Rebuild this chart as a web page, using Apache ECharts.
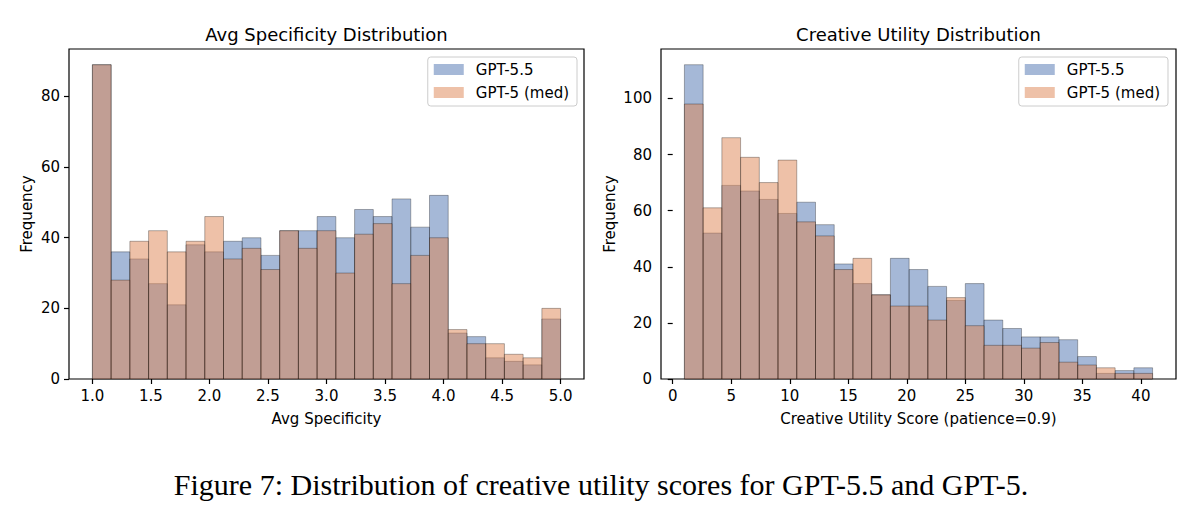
<!DOCTYPE html>
<html>
<head>
<meta charset="utf-8">
<script src="https://cdn.jsdelivr.net/npm/echarts@6/dist/echarts.min.js"></script>
<style>
html,body{margin:0;padding:0;background:#fff}
#c{width:1195px;height:513px}
</style>
</head>
<body>
<div id="c"></div>
<script>
// ---- Data ----
const seriesNames = ['GPT-5.5', 'GPT-5 (med)'];

// Left panel: Avg Specificity, 25 bins from 1.0 to 5.0
const specBinStart = 1.0;
const specBinWidth = 0.16;
const specGPT55 = [89, 36, 34, 27, 21, 38, 36, 39, 40, 35, 42, 42, 46, 40, 48, 46, 51, 43, 52, 13, 12, 6, 5, 4, 17];
const specGPT5  = [89, 28, 39, 42, 36, 39, 46, 34, 37, 31, 42, 37, 42, 30, 41, 44, 27, 35, 40, 14, 10, 10, 7, 6, 20];
const specXTicks = [1.0, 1.5, 2.0, 2.5, 3.0, 3.5, 4.0, 4.5, 5.0];
const specYTicks = [0, 20, 40, 60, 80];

// Right panel: Creative Utility Score, 25 bins from 1 to 41
const utilBinStart = 1;
const utilBinWidth = 1.6;
const utilGPT55 = [112, 52, 69, 67, 64, 59, 63, 55, 41, 34, 30, 43, 39, 33, 28, 34, 21, 18, 15, 15, 14, 8, 2, 3, 4];
const utilGPT5  = [98, 61, 86, 79, 70, 78, 56, 51, 39, 43, 30, 26, 26, 21, 29, 19, 12, 12, 11, 13, 6, 5, 4, 2, 2];
const utilXTicks = [0, 5, 10, 15, 20, 25, 30, 35, 40];
const utilYTicks = [0, 20, 40, 60, 80, 100];

const titles = ['Avg Specificity Distribution', 'Creative Utility Distribution'];
const xNames = ['Avg Specificity', 'Creative Utility Score (patience=0.9)'];
const yName = 'Frequency';
const caption = 'Figure 7: Distribution of creative utility scores for GPT-5.5 and GPT-5.';

// ---- Styling ----
const BLUE = '#4C72B0';
const ORANGE = '#DD8452';
const FONT = 'DejaVu Sans';

function toBins(start, w, counts) {
  return counts.map((c, i) => [start + i * w, start + (i + 1) * w, c]);
}
function histRender(fill) {
  return function (params, api) {
    const a = api.coord([api.value(0), 0]);
    const b = api.coord([api.value(1), api.value(2)]);
    return {
      type: 'rect',
      shape: { x: a[0], y: b[1], width: b[0] - a[0], height: a[1] - b[1] },
      style: { fill: fill, stroke: '#000', lineWidth: 0.6, opacity: 0.5 }
    };
  };
}
function histSeries(name, idx, data, fill) {
  return {
    type: 'custom', name: name, xAxisIndex: idx, yAxisIndex: idx,
    data: data, encode: { x: [0, 1], y: 2 },
    itemStyle: { color: fill, opacity: 0.5 },
    renderItem: histRender(fill), silent: true, animation: false
  };
}
const txt = { color: '#000', fontSize: 15, fontFamily: FONT };

function xAxis(idx, min, max, ticks, fmt, name) {
  return {
    gridIndex: idx, type: 'value', min: min, max: max,
    axisLine: { show: false },
    axisTick: { show: true, length: 5, customValues: ticks, lineStyle: { color: '#000', width: 1.2 } },
    axisLabel: Object.assign({ customValues: ticks, formatter: fmt, margin: 9 }, txt),
    splitLine: { show: false },
    name: name, nameLocation: 'middle', nameGap: 32, nameTextStyle: txt
  };
}
function yAxis(idx, max, ticks, gap) {
  return {
    gridIndex: idx, type: 'value', min: 0, max: max,
    axisLine: { show: false },
    axisTick: { show: true, length: 5, customValues: ticks, lineStyle: { color: '#000', width: 1.2 } },
    axisLabel: Object.assign({ customValues: ticks, margin: 9 }, txt),
    splitLine: { show: false },
    name: yName, nameLocation: 'middle', nameGap: gap, nameRotate: 90, nameTextStyle: txt
  };
}
function legend(rightPx) {
  return {
    orient: 'vertical', right: rightPx, top: 57,
    backgroundColor: '#fff', borderColor: '#ccc', borderWidth: 1, borderRadius: 3,
    padding: [5, 8, 6, 6], itemGap: 8, itemWidth: 30, itemHeight: 11,
    textStyle: Object.assign({ padding: [0, 0, 0, 7], lineHeight: 15 }, txt),
    selectedMode: false,
    data: [
      { name: seriesNames[0], icon: 'rect', itemStyle: { color: BLUE, opacity: 0.5, borderWidth: 0 } },
      { name: seriesNames[1], icon: 'rect', itemStyle: { color: ORANGE, opacity: 0.5, borderWidth: 0 } }
    ]
  };
}

const grids = [
  { left: 69, top: 49, width: 515, height: 330 },
  { left: 661, top: 49, width: 515, height: 330 }
].map(g => Object.assign({ show: true, borderColor: '#000', borderWidth: 1.2, backgroundColor: 'transparent' }, g));

const chart = echarts.init(document.getElementById('c'), null, { renderer: 'svg' });
chart.setOption({
  animation: false,
  backgroundColor: '#fff',
  grid: grids,
  xAxis: [
    xAxis(0, 0.8, 5.2, specXTicks, v => Number(v).toFixed(1), xNames[0]),
    xAxis(1, -1, 43, utilXTicks, v => String(v), xNames[1])
  ],
  yAxis: [
    yAxis(0, Math.max(...specGPT55, ...specGPT5) * 1.05, specYTicks, 35),
    yAxis(1, Math.max(...utilGPT55, ...utilGPT5) * 1.05, utilYTicks, 44)
  ],
  legend: [legend(618), legend(27)],
  series: [
    histSeries(seriesNames[0], 0, toBins(specBinStart, specBinWidth, specGPT55), BLUE),
    histSeries(seriesNames[1], 0, toBins(specBinStart, specBinWidth, specGPT5), ORANGE),
    histSeries(seriesNames[0], 1, toBins(utilBinStart, utilBinWidth, utilGPT55), BLUE),
    histSeries(seriesNames[1], 1, toBins(utilBinStart, utilBinWidth, utilGPT5), ORANGE)
  ],
  graphic: [
    { type: 'text', x: 326.5, y: 34, style: { text: titles[0], fill: '#000', font: '18px "DejaVu Sans"', textAlign: 'center', textVerticalAlign: 'middle' } },
    { type: 'text', x: 918.5, y: 34, style: { text: titles[1], fill: '#000', font: '18px "DejaVu Sans"', textAlign: 'center', textVerticalAlign: 'middle' } },
    { type: 'text', x: 601, y: 484, style: { text: caption, fill: '#000', font: '30px "Liberation Serif"', textAlign: 'center', textVerticalAlign: 'middle' } }
  ]
});
</script>
</body>
</html>
